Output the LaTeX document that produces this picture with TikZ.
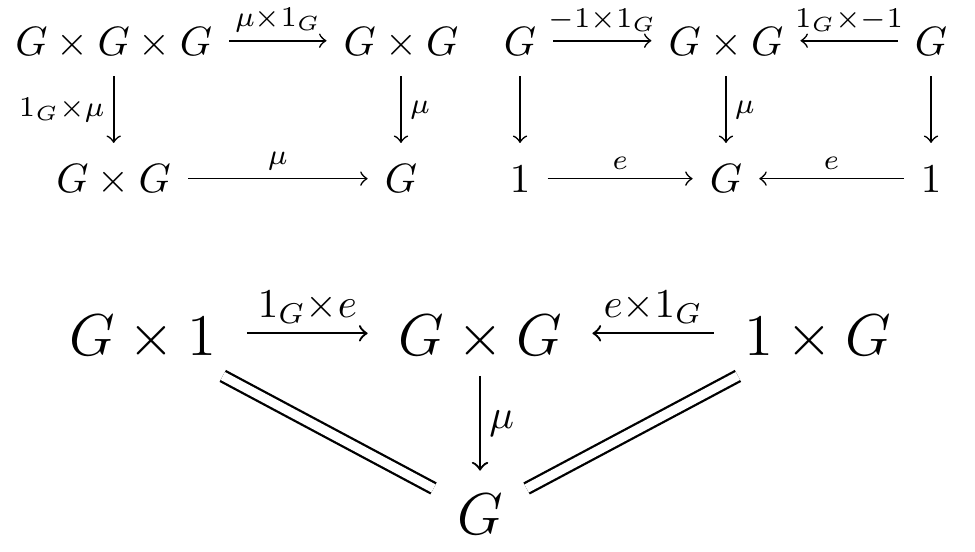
\documentclass[tikz,border=0pt]{standalone}
\usepackage{amsmath}

\begin{document}
\begin{tikzpicture}[
    obj/.style={anchor=base, text height=8pt, text depth=1pt, inner sep=4pt},
    bigobj/.style={obj, font=\Large, text height=12pt, text depth=1.4pt, inner xsep=5.6pt, inner ysep=3.5pt},
    lab/.style={midway, inner sep=2pt},
    biglab/.style={lab, font=\Large},
    bigline/.style={line width=0.56pt},
    eq/.style={bigline, double, double distance=2.2pt}
]
    \useasboundingbox (0,0) rectangle (8.362,-4.734);

    % Associativity square
    \node[obj] (ggg) at (0.975,-0.472) {$G\times G\times G$};
    \node[obj] (ggR) at (3.439,-0.472) {$G\times G$};
    \node[obj] (ggL) at (0.975,-1.655) {$G\times G$};
    \node[obj] (gA) at (3.439,-1.655) {$G$};
    \draw[->] (ggg) -- node[lab, above] {$\scriptstyle\mu\times 1_G$} (ggR);
    \draw[->] (ggg) -- node[lab, left] {$\scriptstyle 1_G\times\mu$} (ggL);
    \draw[->] (ggR) -- node[lab, right] {$\scriptstyle\mu$} (gA);
    \draw[->] (ggL) -- node[lab, above] {$\scriptstyle\mu$} (gA);

    % Inverse
    \node[obj] (invL) at (4.46,-0.472) {$G$};
    \node[obj] (invM) at (6.226,-0.472) {$G\times G$};
    \node[obj] (invR) at (7.985,-0.472) {$G$};
    \node[obj] (oneL) at (4.46,-1.655) {$1$};
    \node[obj] (invG) at (6.226,-1.655) {$G$};
    \node[obj] (oneR) at (7.985,-1.655) {$1$};
    \draw[->] (invL) -- node[lab, above] {$\scriptstyle -1\times 1_G$} (invM);
    \draw[->] (invR) -- node[lab, above] {$\scriptstyle 1_G\times -1$} (invM);
    \draw[->] (invL) -- (oneL);
    \draw[->] (invM) -- node[lab, right] {$\scriptstyle\mu$} (invG);
    \draw[->] (invR) -- (oneR);
    \draw[->] (oneL) -- node[lab, above] {$\scriptstyle e$} (invG);
    \draw[->] (oneR) -- node[lab, above] {$\scriptstyle e$} (invG);

    % Unit triangle
    \node[bigobj] (gone) at (1.226,-3.045) {$G\times 1$};
    \node[bigobj] (gg) at (4.117,-3.045) {$G\times G$};
    \node[bigobj] (oneg) at (7.015,-3.045) {$1\times G$};
    \node[bigobj] (g) at (4.117,-4.588) {$G$};
    \draw[->, bigline, shorten <=1.7pt, shorten >=1.7pt] (gone) -- node[biglab, above] {$\scriptstyle 1_G\times e$} (gg);
    \draw[->, bigline, shorten <=1.7pt, shorten >=1.7pt] (oneg) -- node[biglab, above] {$\scriptstyle e\times 1_G$} (gg);
    \draw[->, bigline] (gg) -- node[biglab, right] {$\scriptstyle\mu$} (g);
    \draw[eq] (gone) -- (g);
    \draw[eq] (oneg) -- (g);
\end{tikzpicture}
\end{document}
